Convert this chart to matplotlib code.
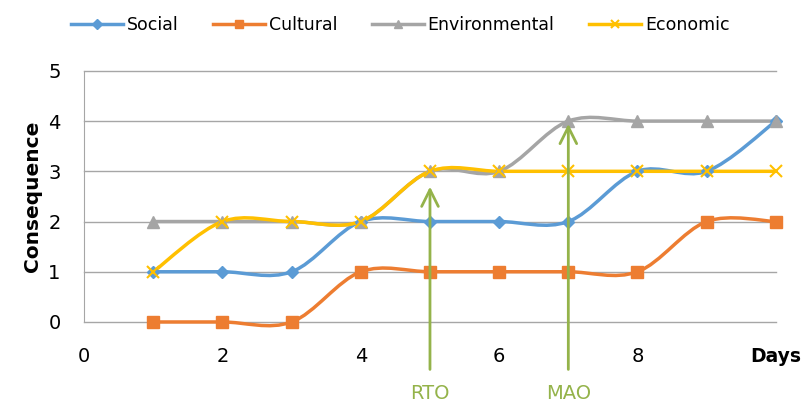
import matplotlib.pyplot as plt
from matplotlib.path import Path
from matplotlib.patches import PathPatch
from matplotlib.lines import Line2D
import numpy as np

days = [1, 2, 3, 4, 5, 6, 7, 8, 9, 10]
social = [1, 1, 1, 2, 2, 2, 2, 3, 3, 4]
cultural = [0, 0, 0, 1, 1, 1, 1, 1, 2, 2]
environmental = [2, 2, 2, 2, 3, 3, 4, 4, 4, 4]
economic = [1, 2, 2, 2, 3, 3, 3, 3, 3, 3]

series = [
    ('Social', social, '#5b9bd5', 'D', 6),
    ('Cultural', cultural, '#ed7d31', 's', 8),
    ('Environmental', environmental, '#a5a5a5', '^', 8),
    ('Economic', economic, '#ffc000', 'x', 8),
]

events = [('RTO', 5, 2.75), ('MAO', 7, 4.0)]
arrow_color = '#94b34a'

x_ticks = [0, 2, 4, 6, 8, 10]
x_labels = ['0', '2', '4', '6', '8', 'Days']


def smooth_path(xs, ys):
    # Catmull-Rom style cubic Bezier through every point
    pts = np.column_stack([xs, ys]).astype(float)
    verts = [pts[0]]
    codes = [Path.MOVETO]
    n = len(pts)
    for i in range(n - 1):
        p0 = pts[i - 1] if i > 0 else pts[i]
        p1 = pts[i]
        p2 = pts[i + 1]
        p3 = pts[i + 2] if i + 2 < n else pts[i + 1]
        c1 = p1 + (p2 - p0) / 6.0
        c2 = p2 - (p3 - p1) / 6.0
        verts.extend([c1, c2, p2])
        codes.extend([Path.CURVE4] * 3)
    return Path(verts, codes)


fig = plt.figure(figsize=(8.09, 4.05), dpi=100)
ax = fig.add_axes([0.104, 0.205, 0.855, 0.62])

# horizontal gridlines, drawn unclipped so the zero line keeps full width
for level in range(0, 6):
    ax.axhline(level, color='#a6a6a6', linewidth=1, zorder=1, clip_on=False)

handles = []
for name, values, color, marker, size in series:
    patch = PathPatch(smooth_path(days, values), facecolor='none', edgecolor=color,
                      linewidth=2.5, zorder=3, capstyle='round', clip_on=False)
    ax.add_patch(patch)
    mew = 1.5 if marker == 'x' else 1
    ax.plot(days, values, linestyle='none', marker=marker, markersize=size,
            color=color, markeredgewidth=mew, zorder=4, clip_on=False)
    handles.append(Line2D([], [], color=color, linewidth=2.5, marker=marker,
                          markersize=size * 0.8, markeredgewidth=mew, label=name))

for label, x, top in events:
    ax.annotate('', xy=(x, top), xytext=(x, -1.0),
                arrowprops=dict(arrowstyle='->', color=arrow_color, lw=2,
                                mutation_scale=30),
                annotation_clip=False, zorder=6)
    ax.text(x, -1.42, label, color=arrow_color, ha='center', va='center',
            fontsize=14, clip_on=False)

ax.set_xlim(0, 10)
ax.set_ylim(0, 5)
ax.set_yticks(range(0, 6))
ax.set_xticks(x_ticks)
ax.set_xticklabels(x_labels)
ax.tick_params(axis='both', length=0, labelsize=14)
ax.tick_params(axis='x', pad=18)
ax.tick_params(axis='y', pad=17)
ax.get_xticklabels()[-1].set_fontweight('bold')
ax.get_xticklabels()[-1].set_fontsize(13.5)
for side in ['top', 'right', 'bottom']:
    ax.spines[side].set_visible(False)
ax.spines['left'].set_color('#a6a6a6')
ax.set_ylabel('Consequence', fontsize=14.5, fontweight='bold', labelpad=4)

fig.legend(handles=handles, loc='upper center', bbox_to_anchor=(0.495, 1.0),
           ncol=4, frameon=False, fontsize=12.5, handlelength=3.0,
           columnspacing=2.0, handletextpad=0.2)

fig.savefig('out.png', dpi=100)
